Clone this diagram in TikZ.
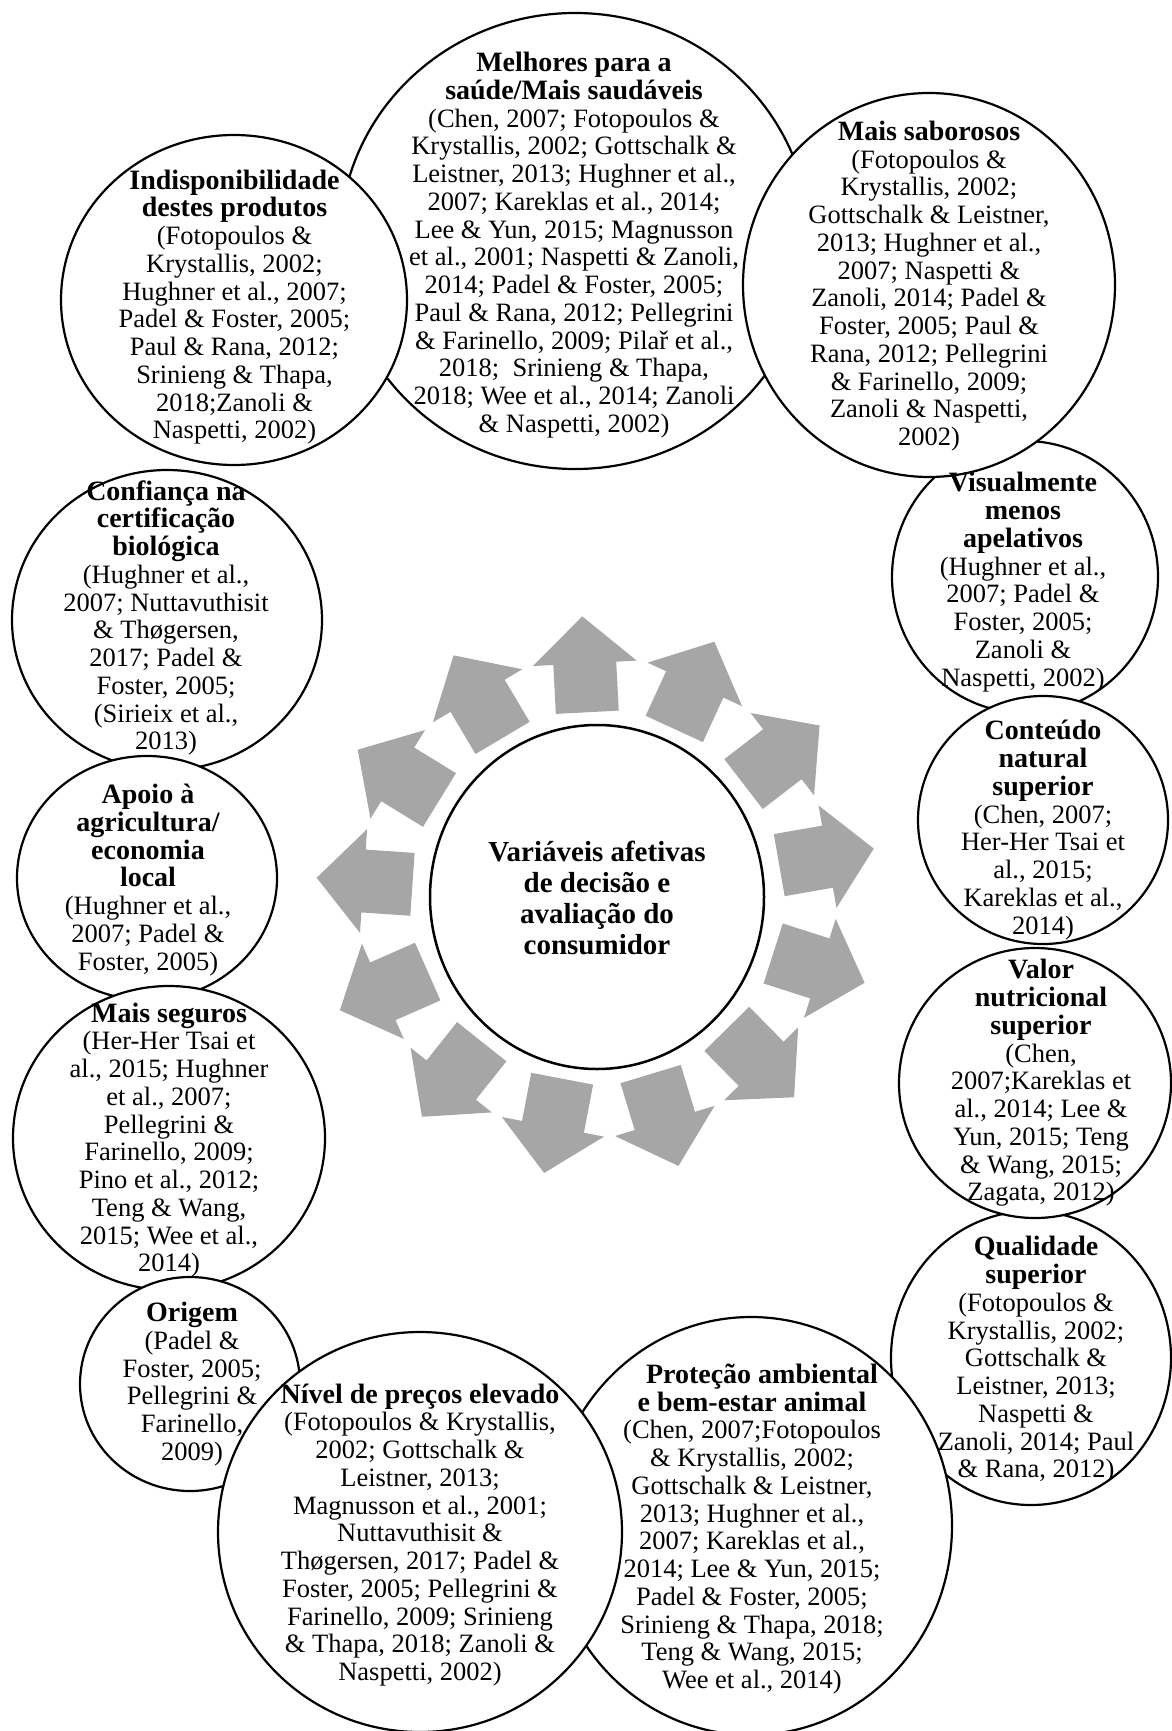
\documentclass[tikz,border=0pt]{standalone}
\usepackage{fontspec}
\setmainfont{Liberation Serif}
\usetikzlibrary{shapes.geometric}
\definecolor{arrowgray}{RGB}{166,166,166}
\newcommand\bt[1]{{\fontsize{28}{27.75}\selectfont\bfseries #1}}
\tikzset{
  bubble/.style={ellipse, draw=black, line width=2.2pt, fill=white, inner sep=0pt, outer sep=0pt},
  txt/.style={align=center, inner sep=0pt, font=\fontsize{26.5}{27.75}\selectfont},
  ctxt/.style={align=center, inner sep=0pt, font=\fontsize{29}{30.7}\selectfont\bfseries},
  arrowshape/.style={fill=arrowgray}
}
\begin{document}
\begin{tikzpicture}[x=1pt,y=-1pt]
\useasboundingbox (0,0) rectangle (1171,1731);
% bubbles (z-order)
\node[bubble, minimum width=470, minimum height=456] (bMel) at (575,241) {};
\node[bubble, minimum width=266, minimum height=272] (bVis) at (1025,577) {};
\node[bubble, minimum width=372, minimum height=384] (bSab) at (929,285) {};
\node[bubble, minimum width=310, minimum height=300] (bConf) at (167,620) {};
\node[bubble, minimum width=346, minimum height=330] (bInd) at (234,300) {};
\node[bubble, minimum width=260, minimum height=244] (bApo) at (147,878) {};
\node[bubble, minimum width=312, minimum height=304] (bSeg) at (169,1138) {};
\node[bubble, minimum width=220, minimum height=214] (bOri) at (190,1384) {};
\node[bubble, minimum width=280, minimum height=294] (bQua) at (1031,1358) {};
\node[bubble, minimum width=402, minimum height=418] (bPro) at (751,1526) {};
\node[bubble, minimum width=404, minimum height=400] (bNiv) at (420,1532) {};
\node[bubble, minimum width=250, minimum height=248] (bCon) at (1043,820) {};
\node[bubble, minimum width=272, minimum height=270] (bVal) at (1035,1083) {};
% arrows
\foreach \a in {0,...,12}{
  \begin{scope}[shift={(597,897)}, rotate={93-\a*360/13}]
    \fill[arrowshape] (185,31.5) -- (234,31.5) -- (234,52) -- (281,0) -- (234,-52) -- (234,-31.5) -- (185,-31.5) -- cycle;
  \end{scope}
}
\node[bubble, line width=2.5pt, minimum width=334, minimum height=344] (bCen) at (597,897) {};
% texts
\node[ctxt] (tCen) at (597,898) {Variáveis afetivas\\ de decisão e\\ avaliação do\\ consumidor};
\node[txt] (tMel) at (574,245) {\bt{Melhores para a}\\ \bt{saúde/Mais saudáveis}\\ (Chen, 2007; Fotopoulos \&\\ Krystallis, 2002; Gottschalk \&\\ Leistner, 2013; Hughner et al.,\\ 2007; Kareklas et al., 2014;\\ Lee \& Yun, 2015; Magnusson\\ et al., 2001; Naspetti \& Zanoli,\\ 2014; Padel \& Foster, 2005;\\ Paul \& Rana, 2012; Pellegrini\\ \& Farinello, 2009; Pilař et al.,\\ 2018;\ \ Srinieng \& Thapa,\\ 2018; Wee et al., 2014; Zanoli\\ \& Naspetti, 2002)};
\node[txt] (tSab) at (929,286) {\bt{Mais saborosos}\\ (Fotopoulos \&\\ Krystallis, 2002;\\ Gottschalk \& Leistner,\\ 2013; Hughner et al.,\\ 2007; Naspetti \&\\ Zanoli, 2014; Padel \&\\ Foster, 2005; Paul \&\\ Rana, 2012; Pellegrini\\ \& Farinello, 2009;\\ Zanoli \& Naspetti,\\ 2002)};
\node[txt] (tInd) at (234.5,307) {\bt{Indisponibilidade}\\ \bt{destes produtos}\\ (Fotopoulos \&\\ Krystallis, 2002;\\ Hughner et al., 2007;\\ Padel \& Foster, 2005;\\ Paul \& Rana, 2012;\\ Srinieng \& Thapa,\\ 2018;Zanoli \&\\ Naspetti, 2002)};
\node[txt] (tConf) at (166,618) {\bt{Confiança na}\\ \bt{certificação}\\ \bt{biológica}\\ (Hughner et al.,\\ 2007; Nuttavuthisit\\ \& Thøgersen,\\ 2017; Padel \&\\ Foster, 2005;\\ (Sirieix et al.,\\ 2013)};
\node[txt] (tApo) at (148,880) {\bt{Apoio à}\\ \bt{agricultura/}\\ \bt{economia}\\ \bt{local}\\ (Hughner et al.,\\ 2007; Padel \&\\ Foster, 2005)};
\node[txt] (tSeg) at (169,1140) {\bt{Mais seguros}\\ (Her-Her Tsai et\\ al., 2015; Hughner\\ et al., 2007;\\ Pellegrini \&\\ Farinello, 2009;\\ Pino et al., 2012;\\ Teng \& Wang,\\ 2015; Wee et al.,\\ 2014)};
\node[txt] (tOri) at (192,1384) {\bt{Origem}\\ (Padel \&\\ Foster, 2005;\\ Pellegrini \&\\ Farinello,\\ 2009)};
\node[txt] (tNiv) at (420,1535) {\bt{Nível de preços elevado}\\ (Fotopoulos \& Krystallis,\\ 2002; Gottschalk \&\\ Leistner, 2013;\\ Magnusson et al., 2001;\\ Nuttavuthisit \&\\ Thøgersen, 2017; Padel \&\\ Foster, 2005; Pellegrini \&\\ Farinello, 2009; Srinieng\\ \& Thapa, 2018; Zanoli \&\\ Naspetti, 2002)};
\node[txt] (tPro) at (752,1529) {\hspace*{20pt}\bt{Proteção ambiental}\\ \bt{e bem-estar animal}\\ (Chen, 2007;Fotopoulos\\ \& Krystallis, 2002;\\ Gottschalk \& Leistner,\\ 2013; Hughner et al.,\\ 2007; Kareklas et al.,\\ 2014; Lee \& Yun, 2015;\\ Padel \& Foster, 2005;\\ Srinieng \& Thapa, 2018;\\ Teng \& Wang, 2015;\\ Wee et al., 2014)};
\node[txt] (tQua) at (1036,1360) {\bt{Qualidade}\\ \bt{superior}\\ (Fotopoulos \&\\ Krystallis, 2002;\\ Gottschalk \&\\ Leistner, 2013;\\ Naspetti \&\\ Zanoli, 2014; Paul\\ \& Rana, 2012)};
\node[txt] (tVal) at (1041,1083) {\bt{Valor}\\ \bt{nutricional}\\ \bt{superior}\\ (Chen,\\ 2007;Kareklas et\\ al., 2014; Lee \&\\ Yun, 2015; Teng\\ \& Wang, 2015;\\ Zagata, 2012)};
\node[txt] (tCon) at (1043,830) {\bt{Conteúdo}\\ \bt{natural}\\ \bt{superior}\\ (Chen, 2007;\\ Her-Her Tsai et\\ al., 2015;\\ Kareklas et al.,\\ 2014)};
\node[txt] (tVis) at (1023,582) {\bt{Visualmente}\\ \bt{menos}\\ \bt{apelativos}\\ (Hughner et al.,\\ 2007; Padel \&\\ Foster, 2005;\\ Zanoli \&\\ Naspetti, 2002)};
\end{tikzpicture}
\end{document}
